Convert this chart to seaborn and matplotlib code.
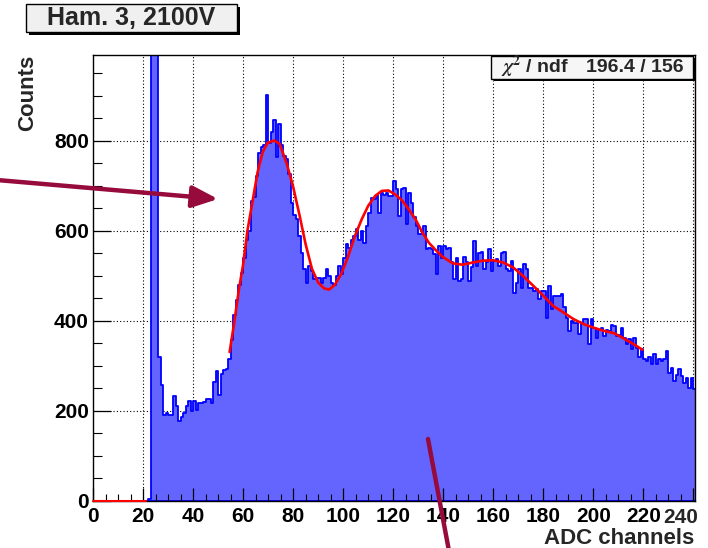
import numpy as np
import pandas as pd
import matplotlib
matplotlib.use("Agg")
import matplotlib.pyplot as plt
import seaborn as sns
from matplotlib.patches import Rectangle

# ---------------- data ----------------
bin_width = 1
counts_zero = [0, 0, 0, 0, 0, 0, 0, 0, 0, 0, 0, 0, 0, 0, 0, 0, 0, 0, 0, 0, 0, 0]  # bins 0..21
counts_main = [
    5, 2200, 2500, 1800, 320, 258, 191, 195, 191, 191,          # 22-31
    234, 211, 178, 186, 195, 210, 222, 200, 223, 202,           # 32-41
    217, 218, 220, 226, 226, 217, 265, 289, 236, 283,           # 42-51
    292, 294, 316, 357, 413, 447, 481, 507, 540, 581,           # 52-61
    600, 667, 675, 723, 773, 787, 790, 902, 795, 820,           # 62-71
    846, 764, 837, 790, 767, 759, 726, 663, 635, 626,           # 72-81
    589, 552, 515, 485, 522, 511, 493, 496, 496, 485,           # 82-91
    496, 515, 500, 485, 481, 500, 522, 504, 541, 570,           # 92-101
    563, 581, 589, 604, 581, 600, 574, 611, 641, 674,           # 102-111
    670, 681, 641, 685, 681, 685, 678, 678, 711, 693,           # 112-121
    633, 693, 696, 615, 685, 663, 630, 611, 593, 593,           # 122-131
    611, 559, 563, 559, 548, 504, 567, 541, 567, 560,           # 132-141
    563, 530, 493, 539, 489, 493, 542, 530, 489, 519,           # 142-151
    578, 522, 552, 554, 515, 530, 559, 511, 533, 537,           # 152-161
    522, 552, 554, 515, 511, 533, 463, 485, 515, 474,           # 162-171
    526, 515, 474, 474, 467, 470, 448, 467, 467, 407,           # 172-181
    478, 426, 456, 456, 456, 459, 430, 407, 378, 400,           # 182-191
    396, 396, 370, 393, 404, 404, 348, 404, 385, 363,           # 192-201
    381, 385, 367, 381, 378, 390, 389, 367, 368, 385,           # 202-211
    363, 348, 359, 337, 363, 341, 319, 337, 315, 311,           # 212-221
    319, 304, 326, 304, 315, 311, 315, 333, 285, 296,           # 222-231
    267, 281, 293, 278, 263, 274, 252, 274, 248,                # 232-240
]
counts = counts_zero + counts_main

fit_x = [54.6, 56.4, 58.4, 60.0, 61.7, 63.8, 65.8, 67.8, 69.8, 72.5, 74.5, 76.0,
         77.5, 80.0, 82.5, 85.0, 87.5, 90.0, 92.5, 94.4, 96.6, 99.3, 102.0, 104.7,
         107.4, 110.0, 112.8, 115.4, 118.1, 120.8, 123.5, 126.2, 128.9, 131.5, 134.2,
         136.9, 139.6, 143.8, 147.8, 151.8, 155.8, 159.9, 163.9, 167.9, 171.9, 176.0,
         180.0, 184.0, 188.0, 192.1, 196.1, 200.1, 204.2, 208.2, 212.2, 216.2, 219.6]
fit_y = [331, 395, 473, 525, 600, 667, 731, 775, 796, 801, 794, 772,
         748, 698, 636, 570, 516, 485, 472, 470, 480, 505, 544, 589,
         626, 656, 678, 689, 690, 681, 668, 648, 626, 598, 574,
         558, 543, 528, 525, 530, 534, 535, 530, 519, 500, 478,
         456, 433, 419, 404, 393, 385, 378, 373, 361, 348, 336]

baseline_x = [0, 21]
baseline_y = [0, 0]

x_ticks = [0, 20, 40, 60, 80, 100, 120, 140, 160, 180, 200, 220, 240]
x_ticklabels = ["0", "20", "40", "60", "80", "100", "120", "140", "160", "180",
                "200", "220", "240"]
y_ticks = [0, 200, 400, 600, 800]
title_text = "Ham. 3, 2100V"
chi2_label = r"$\chi^{2}$ / ndf"
chi2_value = "196.4 / 156"
x_label = "ADC channels"
y_label = "Counts"

# ---------------- style ----------------
sns.set_theme(style="white")
plt.rcParams["font.family"] = ["Liberation Sans", "DejaVu Sans"]
plt.rcParams["font.weight"] = "bold"
plt.rcParams["mathtext.fontset"] = "stix"

W, H = 708, 548
fig = plt.figure(figsize=(W / 100, H / 100), dpi=100)
ax = fig.add_axes([93 / W, 1 - 501 / H, (695 - 93) / W, (501 - 55) / H])

n_bins = len(counts)
centers = np.arange(n_bins) * bin_width + bin_width / 2
df = pd.DataFrame({"adc": centers, "counts": np.array(counts, dtype=float)})

sns.histplot(data=df, x="adc", weights="counts", binwidth=bin_width,
             binrange=(0, n_bins * bin_width), element="step",
             fill=True, color="#0000ff", alpha=1, linewidth=1.3, ax=ax)
poly = ax.collections[-1]
poly.set_facecolor("#6464ff")
poly.set_edgecolor("#0000ff")
poly.set_linewidth(1.3)
poly.set_zorder(1)
for ln in ax.lines:
    ln.set_color("#0000ff")

# fit curve
ax.plot(fit_x, fit_y, color="#ff0000", lw=1.9, zorder=3)
ax.plot(baseline_x, baseline_y, color="#ff0000", lw=1.5, zorder=3, clip_on=False)

ax.set_xlim(0, 240.6)
ax.set_ylim(0, 991)

# grid (dotted, behind histogram)
for xv in x_ticks[1:]:
    ax.axvline(xv, color="black", lw=0.8, ls=(0, (1, 2)), zorder=0.5)
for yv in y_ticks[1:]:
    ax.axhline(yv, color="black", lw=0.8, ls=(0, (1, 2)), zorder=0.5)
ax.axvline(240.5, color="#ff0000", lw=0.8, zorder=3)

ax.set_xticks(x_ticks)
ax.set_xticklabels(x_ticklabels[:-1] + [""])
ax.set_yticks(y_ticks)
ax.set_xticks(np.arange(0, 241, 5), minor=True)
ax.set_yticks(np.arange(0, 991, 50), minor=True)
ax.set_axisbelow(False)
ax.tick_params(axis="x", which="major", direction="in", length=9.5, width=0.9,
               labelsize=15, pad=4, colors="black", bottom=True, top=False)
ax.tick_params(axis="x", which="minor", direction="in", length=5, width=0.8,
               bottom=True, top=False, colors="black")
ax.tick_params(axis="y", which="major", direction="in", length=13, width=0.9,
               labelsize=15, pad=3, colors="black", left=True, right=False)
ax.tick_params(axis="y", which="minor", direction="in", length=6.5, width=0.8,
               left=True, right=False, colors="black")
for lab in ax.get_xticklabels() + ax.get_yticklabels():
    lab.set_fontweight("bold")
# last x tick label is shifted left in the reference
fig.text(681 / W, 1 - 523 / H, x_ticklabels[-1], ha="center", va="baseline",
         fontsize=15, fontweight="bold")
ax.set_xlabel("")
ax.set_ylabel("")
for s in ax.spines.values():
    s.set_color("black")
    s.set_linewidth(1.0)
    s.set_visible(True)

# axis titles
fig.text(694 / W, 1 - 543.5 / H, x_label, ha="right", va="baseline", fontsize=16,
         fontweight="bold")
fig.text(28 / W, 1 - 55 / H, y_label, ha="center", va="top", rotation=90,
         fontsize=16, fontweight="bold")

# boxes with shadow
def box(x0, y0, x1, y1, face, shadow=3):
    fig.add_artist(Rectangle(((x0 + shadow) / W, 1 - (y1 + shadow) / H),
                             (x1 - x0) / W, (y1 - y0) / H, transform=fig.transFigure,
                             facecolor="black", edgecolor="black", lw=0, zorder=5))
    fig.add_artist(Rectangle((x0 / W, 1 - y1 / H), (x1 - x0) / W, (y1 - y0) / H,
                             transform=fig.transFigure, facecolor=face,
                             edgecolor="black", lw=1.0, zorder=6))

box(26, 4, 237, 31.5, "#f0f0f0")
fig.text(131.5 / W, 1 - 18 / H, title_text, ha="center", va="center", fontsize=18,
         fontweight="bold", zorder=7)

box(491, 55.5, 693, 78.5, "#f6f6f6", shadow=3)
fig.text(501 / W, 1 - 67 / H, chi2_label, ha="left", va="center", fontsize=14,
         fontweight="bold", zorder=7)
fig.text(684 / W, 1 - 67 / H, chi2_value, ha="right", va="center", fontsize=14,
         fontweight="bold", zorder=7)

# annotation arrows
maroon = "#960a3c"
ax.annotate("", xy=(218, H - 199), xytext=(-3, H - 180), xycoords="figure pixels",
            textcoords="figure pixels",
            arrowprops=dict(arrowstyle="-|>,head_length=1.3,head_width=0.55",
                            lw=3.2, color=maroon, shrinkA=0, shrinkB=0),
            annotation_clip=False)
ax.annotate("", xy=(449, -3), xytext=(428, H - 439), xycoords="figure pixels",
            textcoords="figure pixels",
            arrowprops=dict(arrowstyle="-", lw=3.2, color=maroon, shrinkA=0, shrinkB=0),
            annotation_clip=False)

fig.savefig("out.png", dpi=100)
